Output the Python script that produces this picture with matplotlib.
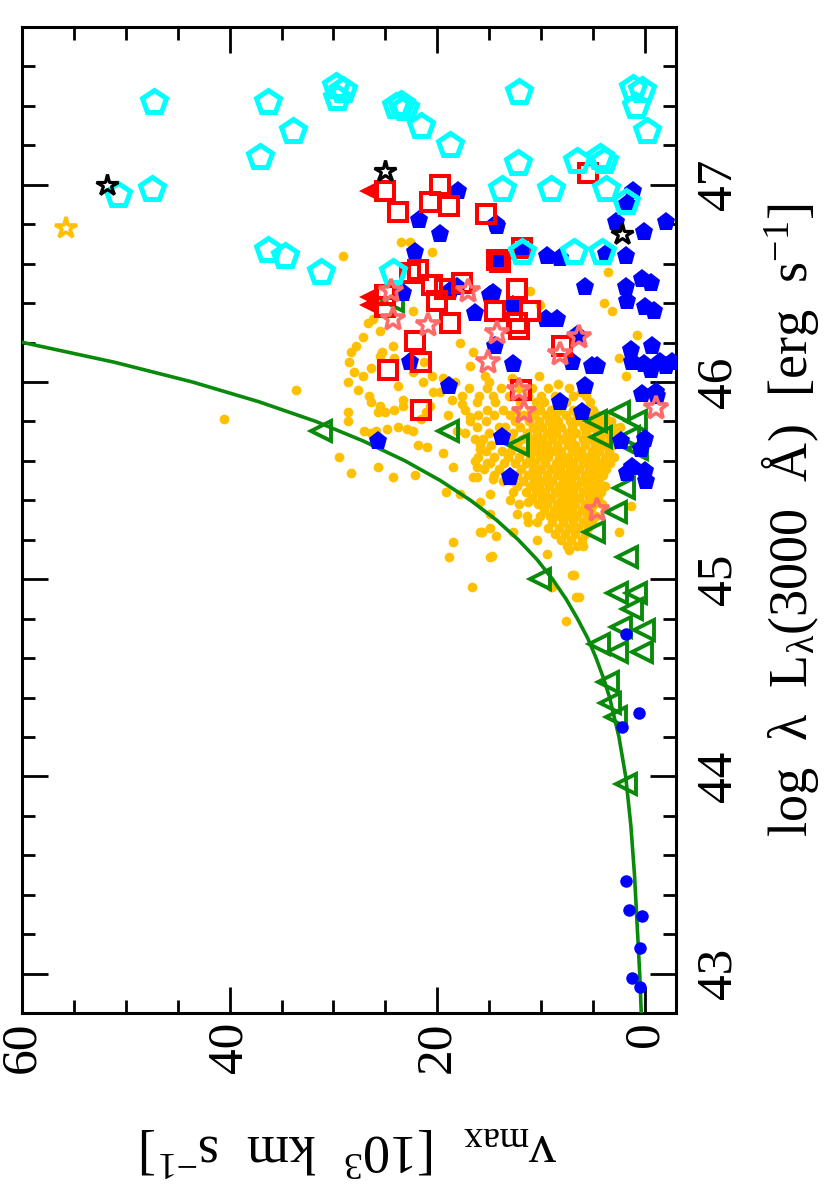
import matplotlib
matplotlib.use("Agg")
import matplotlib.pyplot as plt
from matplotlib.ticker import MultipleLocator
import numpy as np

plt.rcParams['font.family'] = ['Liberation Serif', 'DejaVu Serif']
plt.rcParams['mathtext.fontset'] = 'custom'
plt.rcParams['mathtext.rm'] = 'Liberation Serif'
plt.rcParams['mathtext.it'] = 'Liberation Serif'

# data: (v_max [1e3 km/s], log L3000)
curve_L = [42.8, 43.0, 43.25, 43.5, 43.75, 44.0, 44.2, 44.4, 44.5, 44.6, 44.7,
           44.8, 44.9, 45.0, 45.1, 45.2, 45.3, 45.4, 45.5, 45.6, 45.7, 45.8,
           45.9, 46.0, 46.1, 46.2, 46.3]
curve_v = [0.35, 0.5, 0.75, 1.0, 1.35, 1.85, 2.5, 3.4, 4.0, 4.7, 5.5,
           6.5, 7.6, 8.9, 10.4, 12.2, 14.3, 16.8, 19.7, 23.1, 27.1, 31.7,
           37.2, 43.6, 51.1, 59.9, 70.2]

# gold dots, dense core: (log L, [v ...])
gold_rows = [
    (45.97, [16.9, 15.2, 13.9, 12.1, 10.9, 9.3, 7.3]),
    (45.93, [17.6, 16.0, 14.6, 13.1, 11.3, 10.0, 8.7, 6.9, 5.7]),
    (45.90, [16.2, 14.4, 12.0, 10.5, 9.7, 8.3, 7.6, 5.3]),
    (45.86, [17.3, 15.2, 13.7, 12.4, 11.0, 10.1, 9.0, 8.2, 6.9, 6.1, 5.0]),
    (45.83, [16.1, 14.5, 13.0, 11.6, 10.7, 9.5, 8.7, 7.6, 6.5, 5.6, 4.6, 3.8]),
    (45.80, [16.8, 15.3, 12.5, 11.2, 10.2, 9.2, 8.4, 7.2, 6.4, 5.3, 4.4, 3.3]),
    (45.77, [16.2, 14.1, 13.5, 12.0, 10.8, 9.9, 8.9, 8.1, 7.0, 5.9, 5.1, 4.0, 3.1, 2.4]),
    (45.74, [17.3, 15.0, 12.7, 11.4, 10.4, 9.4, 8.6, 7.5, 6.6, 5.7, 4.6, 3.7, 2.9]),
    (45.71, [16.4, 15.6, 14.0, 12.9, 11.8, 10.8, 9.9, 8.9, 8.0, 7.1, 6.0, 5.3, 4.3, 3.4, 2.6]),
    (45.68, [15.9, 14.8, 12.3, 11.1, 10.3, 9.4, 8.5, 7.4, 6.7, 5.8, 4.8, 3.9, 3.1]),
    (45.65, [15.3, 13.8, 12.9, 11.7, 10.7, 9.8, 8.9, 8.1, 7.0, 6.2, 5.1, 4.4, 3.5]),
    (45.62, [16.1, 14.5, 13.2, 12.1, 11.1, 10.1, 9.3, 8.3, 7.4, 6.4, 5.6, 4.8, 3.8, 3.0]),
    (45.59, [14.9, 13.6, 12.5, 11.5, 10.6, 9.6, 8.6, 7.8, 6.9, 6.0, 5.1, 4.2, 3.4]),
    (45.56, [15.5, 14.1, 11.9, 10.8, 10.0, 9.0, 8.2, 7.2, 6.3, 5.4, 4.5, 3.7]),
    (45.53, [14.5, 13.3, 12.3, 11.3, 10.4, 9.4, 8.5, 7.6, 6.7, 5.8, 4.9, 4.0]),
    (45.50, [13.7, 12.7, 11.7, 10.7, 9.8, 8.9, 7.9, 7.1, 6.2, 5.3, 4.4]),
    (45.47, [12.3, 11.1, 10.2, 9.2, 8.3, 7.4, 6.5, 5.6, 4.7, 3.8]),
    (45.44, [12.7, 11.5, 10.5, 9.6, 8.7, 7.8, 6.9, 6.0, 5.1, 4.2]),
    (45.41, [10.9, 9.9, 9.0, 8.1, 7.2, 6.3, 5.4, 4.5]),
    (45.38, [10.3, 9.4, 8.5, 7.6, 6.7, 5.8, 4.9, 4.1]),
    (45.35, [9.7, 8.8, 7.9, 7.0, 6.1, 5.2]),
    (45.32, [10.1, 9.1, 8.3, 7.4, 6.5, 5.6, 4.7]),
    (45.29, [8.9, 7.9, 6.9, 6.0, 5.1]),
    (45.26, [9.3, 8.3, 7.3, 6.4, 5.5]),
    (45.23, [8.7, 7.7, 6.7, 5.8]),
    (45.20, [8.1, 7.1, 6.1]),
    (45.17, [7.5, 6.5]),
]

# gold dots, outskirts (v, log L)
gold_extra = [
    (40.5, 45.81), (33.6, 45.96), (29.1, 46.64), (23.5, 46.71), (22.6, 46.71),
    (20.5, 46.66), (3.6, 46.56), (3.9, 46.40), (3.2, 46.36), (0.8, 46.24),
    (11.1, 46.46), (10.1, 46.39), (2.5, 46.12), (1.8, 46.03), (22.3, 46.36),
    (26.2, 46.32), (26.7, 46.30), (25.5, 46.26), (27.2, 46.23), (27.8, 46.18),
    (28.3, 46.15), (28.5, 46.10), (28.0, 46.05), (28.6, 46.00), (27.6, 45.96),
    (27.2, 46.03), (26.4, 46.07), (25.3, 46.15), (24.3, 46.18), (25.5, 46.13),
    (24.2, 46.12), (26.6, 45.93), (26.4, 45.90), (25.5, 45.88), (25.7, 45.85),
    (25.0, 45.85), (24.2, 45.86), (28.6, 45.85), (28.6, 45.80), (27.1, 45.75),
    (25.9, 45.75), (24.8, 45.76), (23.8, 45.77), (23.3, 45.88), (23.3, 45.91),
    (22.9, 45.76), (22.3, 45.75), (21.6, 45.81), (21.1, 45.85), (20.7, 45.88),
    (20.4, 45.95), (21.4, 46.00), (22.3, 46.05), (21.3, 46.10), (20.5, 46.03),
    (23.8, 45.98), (19.4, 46.02), (19.7, 45.95), (17.8, 46.20), (17.6, 45.89),
    (18.6, 45.91), (19.0, 45.83), (16.8, 45.82), (18.1, 45.75), (16.8, 46.08),
    (16.6, 46.15), (15.4, 46.03), (29.5, 45.62), (28.3, 45.54), (25.7, 45.57),
    (24.3, 45.52), (22.1, 45.53), (19.2, 45.44), (18.5, 45.57), (19.4, 45.64),
    (21.0, 45.67), (21.9, 45.68), (26.4, 45.74), (16.2, 45.57), (16.6, 45.52),
    (17.8, 45.43), (15.9, 45.39), (14.9, 45.33), (15.7, 45.24), (14.9, 45.26),
    (12.7, 45.24), (18.5, 45.19), (18.9, 45.11), (14.9, 45.11), (16.7, 44.96),
    (14.7, 45.12), (15.9, 45.24), (14.3, 45.22), (12.3, 45.33), (11.4, 45.32),
    (10.4, 45.29), (12.1, 45.38), (11.3, 45.39), (13.0, 45.40), (14.9, 45.43),
    (14.6, 45.51), (16.2, 45.52), (16.4, 45.60), (15.2, 45.59), (15.9, 45.66),
    (7.0, 45.02), (6.6, 44.91), (1.3, 45.37), (2.5, 45.24), (7.3, 45.15),
    (6.0, 45.17), (8.9, 44.96), (6.3, 44.91), (10.4, 45.20), (11.3, 45.29),
    (9.0, 44.96), (7.6, 44.79), (9.4, 45.13), (6.8, 45.02), (18.3, 46.00),
    (15.0, 46.00), (12.8, 46.02), (10.2, 46.03), (8.4, 45.99), (6.2, 45.95),
]

cyan_pent = [
    (47.3, 47.42), (36.3, 47.42), (29.8, 47.50), (29.1, 47.48), (29.7, 47.44),
    (33.9, 47.27), (37.1, 47.14), (50.8, 46.95), (47.5, 46.98), (36.3, 46.67),
    (34.7, 46.64), (31.2, 46.56), (24.0, 47.40), (23.5, 47.41), (23.1, 47.39),
    (21.6, 47.30), (18.8, 47.20), (24.3, 46.56), (12.1, 47.47), (1.1, 47.49),
    (0.3, 47.48), (0.9, 47.40), (-0.2, 47.27), (12.2, 47.11), (6.5, 47.12),
    (4.3, 47.14), (3.9, 47.12), (13.8, 46.98), (9.0, 46.98), (3.7, 46.98),
    (1.8, 46.91), (11.8, 46.66), (6.8, 46.66), (4.1, 46.66),
]

red_square = [
    (25.0, 46.97), (23.8, 46.86), (19.7, 47.00), (20.7, 46.91), (18.9, 46.89),
    (15.3, 46.85), (5.5, 47.06), (11.8, 46.68), (14.2, 46.62), (14.0, 46.61),
    (21.9, 46.57), (22.6, 46.55), (20.5, 46.49), (17.6, 46.50), (20.0, 46.41),
    (12.3, 46.47), (18.8, 46.30), (14.4, 46.36), (11.1, 46.36), (22.1, 46.21),
    (21.6, 46.10), (24.7, 46.06), (21.6, 45.86), (12.1, 46.27), (12.3, 46.30),
    (8.0, 46.18), (11.9, 45.96), (19.3, 46.47), (25.0, 46.44), (25.0, 46.38),
]
red_limit = [(26.6, 46.97), (26.6, 46.43), (26.6, 46.39)]

salmon_star = [
    (24.5, 46.46), (24.3, 46.32), (20.9, 46.29), (17.0, 46.46), (14.2, 46.25),
    (15.1, 46.10), (12.1, 45.96), (11.6, 45.85), (6.3, 46.23), (8.2, 46.14),
    (-1.1, 45.87), (4.6, 45.35),
]

green_tri = [
    (31.2, 45.75), (19.0, 45.75), (12.2, 45.68), (4.7, 45.80), (2.5, 45.85),
    (0.9, 45.80), (4.2, 45.72), (1.5, 45.72), (0.8, 45.66), (2.0, 45.46),
    (2.8, 45.34), (4.9, 45.24), (1.7, 45.11), (10.1, 45.00), (2.7, 44.93),
    (0.9, 44.93), (1.2, 44.85), (2.3, 44.76), (0.1, 44.74), (4.4, 44.67),
    (2.7, 44.63), (0.3, 44.63), (3.6, 44.48), (3.4, 44.37), (2.8, 44.30),
    (1.8, 43.96), (24.3, 46.41),
]

blue_pent = [
    (18.0, 46.97), (21.8, 46.82), (19.7, 46.75), (14.2, 46.79), (14.3, 46.80),
    (22.1, 46.66), (14.1, 46.62), (11.8, 46.67), (9.4, 46.64), (8.2, 46.63),
    (3.7, 46.65), (1.8, 46.64), (1.1, 46.97), (1.7, 46.90), (0.1, 46.76),
    (-2.0, 46.81), (2.8, 46.81), (5.8, 46.48), (0.3, 46.52), (-0.6, 46.50),
    (1.8, 46.48), (1.7, 46.41), (-0.9, 46.36), (0.0, 46.38), (-0.7, 46.18),
    (1.3, 46.16), (-1.5, 46.10), (-2.6, 46.10), (0.1, 46.09), (1.2, 46.10),
    (-0.6, 46.06), (0.3, 45.94), (-1.1, 45.95), (9.5, 46.32), (8.5, 46.32),
    (5.1, 46.08), (7.0, 46.10), (5.8, 45.98), (8.2, 45.90), (18.9, 45.98),
    (16.4, 46.35), (12.7, 46.09), (22.6, 46.10), (18.1, 46.48), (13.8, 45.72),
    (2.3, 45.70), (0.0, 45.71), (14.6, 46.45), (12.7, 46.39), (14.4, 46.18),
    (23.3, 46.45), (18.8, 46.46), (14.9, 46.44), (6.1, 45.85), (25.7, 45.70),
    (13.0, 45.52), (1.7, 45.54), (0.0, 45.55), (1.2, 45.57), (-0.1, 45.50),
    (0.4, 45.66), (-1.2, 45.93), (4.6, 46.08), (-2.0, 46.08), (6.5, 46.24),
]

blue_circle = [
    (1.8, 44.72), (0.6, 44.32), (2.2, 44.25), (1.8, 43.47), (1.5, 43.32),
    (0.3, 43.29), (0.5, 43.13), (1.2, 42.98), (0.5, 42.93),
]

black_star = [(51.8, 47.00), (25.0, 47.07), (2.2, 46.75)]
gold_star = [(55.8, 46.78)]


def xy(points):
    arr = np.array(points, dtype=float)
    return arr[:, 0], arr[:, 1]


gold_v = [v for L, vs in gold_rows for v in vs] + [p[0] for p in gold_extra]
gold_L = [L for L, vs in gold_rows for v in vs] + [p[1] for p in gold_extra]

fig = plt.figure(figsize=(8.3, 12.04), dpi=100)
ax = fig.add_axes([0.0265, 0.1586, 0.788, 0.819])

GOLD = '#FFC000'
GREEN = '#0A8A0A'

ax.plot(gold_v, gold_L, 'o', color=GOLD, ms=7.0, mew=0, zorder=2)
ax.plot(curve_v, curve_L, '-', color=GREEN, lw=2.6, zorder=3)

v, L = xy(green_tri)
ax.plot(v, L, '<', ms=15, mfc='none', mec=GREEN, mew=2.8, zorder=4)
v, L = xy(blue_circle)
ax.plot(v, L, 'o', ms=9, color='#0000FF', mew=0, zorder=4)
v, L = xy(blue_pent)
ax.plot(v, L, 'p', ms=14, color='#0000FF', mew=0, zorder=5)
v, L = xy(red_square)
ax.plot(v, L, 's', ms=13, mfc='none', mec='#FF0000', mew=2.9, zorder=6)
v, L = xy(red_limit)
ax.plot(v, L, '<', ms=14, color='#FF0000', mew=0, zorder=6)
v, L = xy(cyan_pent)
ax.plot(v, L, 'p', ms=18, mfc='none', mec='#00FFFF', mew=3.6, zorder=7)
v, L = xy(salmon_star)
ax.plot(v, L, '*', ms=18, mfc='none', mec='#FF6B6B', mew=2.6, zorder=8)
v, L = xy(gold_star)
ax.plot(v, L, '*', ms=16, mfc='none', mec=GOLD, mew=2.6, zorder=8)
v, L = xy(black_star)
ax.plot(v, L, '*', ms=16, mfc='none', mec='black', mew=2.3, zorder=9)

ax.set_xlim(60, -3)
ax.set_ylim(42.8, 47.8)

ax.xaxis.set_major_locator(MultipleLocator(20))
ax.xaxis.set_minor_locator(MultipleLocator(5))
ax.yaxis.set_major_locator(MultipleLocator(1))
ax.yaxis.set_minor_locator(MultipleLocator(0.2))

for s in ax.spines.values():
    s.set_linewidth(2.2)
ax.tick_params(which='both', direction='in', top=True, right=True, width=2.0)
ax.tick_params(which='major', length=19)
ax.tick_params(which='minor', length=9.5)
ax.tick_params(axis='x', labelrotation=90, labelsize=37, pad=6)
ax.tick_params(axis='y', labelleft=False, labelright=True, labelrotation=90,
               labelsize=37, pad=14)
for t in ax.get_yticklabels():
    t.set_va('center')

ax.yaxis.set_label_position('right')
ax.set_ylabel(r'log  λ  L$_{\mathrm{λ}}$(3000  Å)  [erg  s$^{-1}$]',
              fontsize=39, rotation=90, labelpad=12)
ax.set_xlabel(r'v$_{\mathrm{max}}$  [10$^{3}$  km  s$^{-1}$]',
              fontsize=39, rotation=180, labelpad=36)

fig.savefig('out.png', dpi=100)
